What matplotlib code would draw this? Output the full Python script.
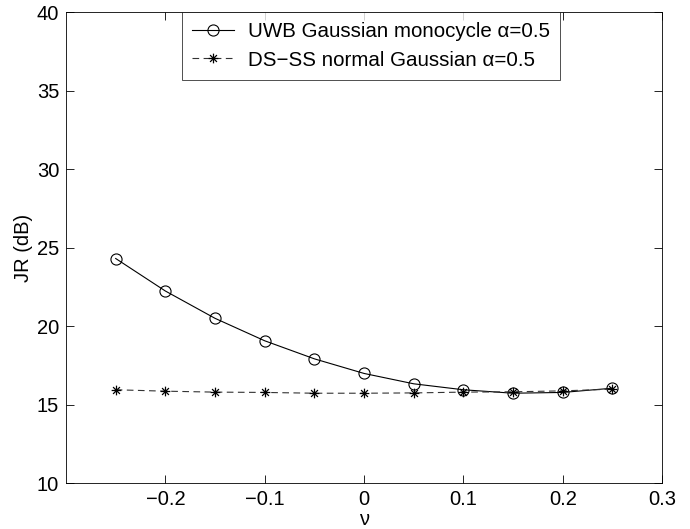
import matplotlib
matplotlib.use("Agg")
import matplotlib.pyplot as plt
from matplotlib.path import Path
import numpy as np

nu = [-0.25, -0.2, -0.15, -0.1, -0.05, 0, 0.05, 0.1, 0.15, 0.2, 0.25]
uwb = [24.3, 22.23, 20.49, 19.06, 17.91, 16.98, 16.32, 15.94, 15.72, 15.77, 16.04]
dsss = [15.94, 15.85, 15.79, 15.77, 15.72, 15.72, 15.74, 15.79, 15.81, 15.87, 15.98]
xticks = [-0.2, -0.1, 0, 0.1, 0.2, 0.3]
xticklabels = ["\u22120.2", "\u22120.1", "0", "0.1", "0.2", "0.3"]
yticks = [10, 15, 20, 25, 30, 35, 40]

plt.rcParams['font.family'] = ['Liberation Sans', 'DejaVu Sans']

# MATLAB-style asterisk marker (+ and x overlaid)
d = 0.7071
ast = Path([(-1, 0), (1, 0), (0, -1), (0, 1), (-d, -d), (d, d), (-d, d), (d, -d)],
           [Path.MOVETO, Path.LINETO] * 4)

fs = 14.8
fig = plt.figure(figsize=(6.9, 5.29), dpi=100)
ax = fig.add_axes([0.0957, 0.0869, 0.8638, 0.8904])

ax.plot(nu, uwb, color='black', lw=0.8, marker='o', ms=8, mfc='none', mec='black', mew=0.8,
        label='UWB Gaussian monocycle \u03b1=0.5')
ax.plot(nu, dsss, color='#333333', lw=0.8, ls=(0, (6, 4)), marker=ast, ms=7, mfc='none', mec='black', mew=0.9,
        label='DS\u2212SS normal Gaussian \u03b1=0.5')

ax.set_xlim(-0.3, 0.3)
ax.set_ylim(10, 40)
ax.set_xticks(xticks)
ax.set_xticklabels(xticklabels)
ax.set_yticks(yticks)
ax.tick_params(direction='in', top=True, right=True, labelsize=14.5, length=6, width=0.6, pad=5)
for s in ax.spines.values():
    s.set_linewidth(0.6)
ax.set_xlabel('\u03bd', fontsize=14.5, labelpad=1)
ax.set_ylabel('JR (dB)', fontsize=14.5, labelpad=3)

leg = ax.legend(loc='upper center', bbox_to_anchor=(0.512, 1.0), fontsize=fs, frameon=True, fancybox=False,
                edgecolor='black', handlelength=2.0, borderaxespad=0.0, labelspacing=0.45, borderpad=0.5,
                handletextpad=0.7)
leg.get_frame().set_linewidth(0.6)

fig.savefig('out.png', dpi=100)
